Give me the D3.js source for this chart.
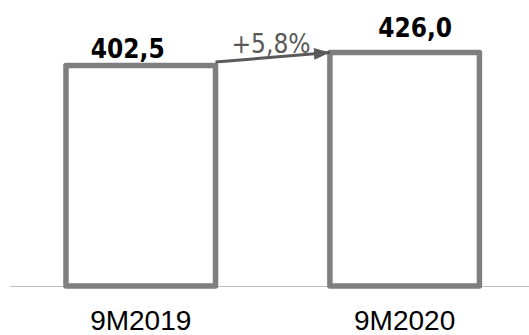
<!DOCTYPE html>
<html><head><meta charset="utf-8">
<script src="https://cdn.jsdelivr.net/npm/d3@7"></script>
<style>body{margin:0;background:#fff}</style>
</head><body>
<svg id="c" width="529" height="335"></svg>
<script>
const categories = ["9M2019", "9M2020"];
const values = [402.5, 426.0];
const valueLabels = ["402,5", "426,0"];
const growthLabel = "+5,8%";

const svg = d3.select("#c");
const baseY = 287;
const x = d3.scaleBand().domain(categories).range([0, 545.4]).paddingInner(0.4334).paddingOuter(0.25);
const y = d3.scaleLinear().domain([0, 402.5]).range([baseY, 65.5]);

svg.append("defs").append("marker")
  .attr("id","ah").attr("viewBox","0 0 16 12").attr("refX",16).attr("refY",6)
  .attr("markerUnits","userSpaceOnUse")
  .attr("markerWidth",16).attr("markerHeight",12).attr("orient","auto")
  .append("path").attr("d","M0,0 L16,6 L0,12 z").attr("fill","#595959");

svg.append("line").attr("x1",10).attr("x2",529).attr("y1",286.5).attr("y2",286.5)
  .attr("stroke","#bfbfbf").attr("stroke-width",1.2);

svg.selectAll("rect.bar").data(values).enter().append("rect")
  .attr("class","bar")
  .attr("x",(d,i)=>x(categories[i]))
  .attr("width",x.bandwidth())
  .attr("y",d=>y(d))
  .attr("height",d=>baseY-1-y(d))
  .attr("fill","#fff").attr("stroke","#7f7f7f").attr("stroke-width",5.5)
  .attr("stroke-linejoin","round");

const labelDx = [-13, 10.5], labelDy = [-7.5, -15.6];
svg.selectAll("text.val").data(values).enter().append("text")
  .attr("x",(d,i)=>x(categories[i])+x.bandwidth()/2+labelDx[i])
  .attr("y",(d,i)=>y(d)+labelDy[i])
  .attr("text-anchor","middle")
  .attr("font-family","DejaVu Sans Condensed, DejaVu Sans")
  .attr("font-weight","bold").attr("font-size",26).attr("fill","#000")
  .text((d,i)=>valueLabels[i]);

svg.selectAll("text.cat").data(categories).enter().append("text")
  .attr("x",d=>x(d)+x.bandwidth()/2)
  .attr("y",330)
  .attr("text-anchor","middle")
  .attr("font-family","Liberation Sans, Arial")
  .attr("font-size",28).attr("fill","#000")
  .text(d=>d);

const x1 = x(categories[0])+x.bandwidth(), y1 = y(values[0])-3.5;
const x2 = x(categories[1]), y2 = y(values[1]);
svg.append("line").attr("x1",x1).attr("y1",y1).attr("x2",x2).attr("y2",y2)
  .attr("stroke","#595959").attr("stroke-width",3).attr("marker-end","url(#ah)");

svg.append("text").attr("x",271).attr("y",53).attr("text-anchor","middle")
  .attr("font-family","DejaVu Sans Condensed, DejaVu Sans")
  .attr("font-size",26).attr("fill","#595959").text(growthLabel);
</script>
</body></html>
